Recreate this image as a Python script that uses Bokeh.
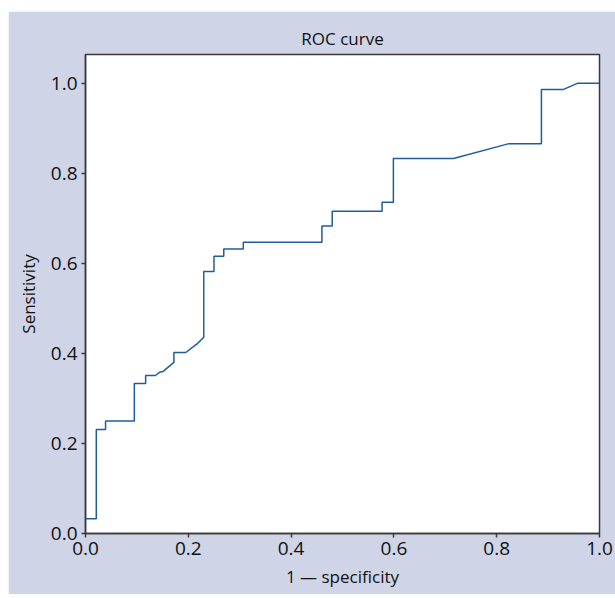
from bokeh.plotting import figure
from bokeh.models import Range1d, FixedTicker, PrintfTickFormatter, Spacer
from bokeh.layouts import column, row
from bokeh.embed import file_html
from bokeh.resources import INLINE

# ROC curve data (1 - specificity, sensitivity)
fpr = [0.0, 0.021, 0.021, 0.039, 0.039, 0.095, 0.095, 0.117, 0.117, 0.136,
       0.144, 0.151, 0.172, 0.172, 0.195, 0.217, 0.230, 0.230, 0.250, 0.250,
       0.269, 0.269, 0.307, 0.307, 0.460, 0.460, 0.480, 0.480, 0.577, 0.577,
       0.599, 0.599, 0.716, 0.824, 0.887, 0.887, 0.929, 0.957, 1.0]
tpr = [0.033, 0.033, 0.231, 0.231, 0.250, 0.250, 0.333, 0.333, 0.351, 0.351,
       0.358, 0.360, 0.380, 0.402, 0.402, 0.421, 0.436, 0.582, 0.582, 0.616,
       0.616, 0.632, 0.632, 0.647, 0.647, 0.683, 0.683, 0.716, 0.716, 0.736,
       0.736, 0.833, 0.833, 0.866, 0.866, 0.986, 0.986, 1.0, 1.0]
ticks = [0.0, 0.2, 0.4, 0.6, 0.8, 1.0]

BG = "#cfd4e7"
FONT = "Open Sans"

p = figure(width=607, height=583, output_backend="svg", toolbar_location=None,
           x_range=Range1d(0, 1), y_range=Range1d(0, 1.064),
           min_border_left=77, min_border_right=16, min_border_top=43,
           min_border_bottom=61, title="ROC curve")
p.border_fill_color = BG
p.background_fill_color = "white"
p.outline_line_color = "#3a3a3a"
p.outline_line_width = 1.5
p.grid.visible = False

p.title.align = "center"
p.title.text_font = FONT
p.title.text_font_size = "17px"
p.title.text_font_style = "normal"
p.title.text_color = "#111111"
p.title.standoff = 10

for ax in (p.xaxis[0], p.yaxis[0]):
    ax.ticker = FixedTicker(ticks=ticks)
    ax.formatter = PrintfTickFormatter(format="%.1f")
    ax.major_label_text_font = FONT
    ax.major_label_text_font_size = "19px"
    ax.major_label_text_color = "#111111"
    ax.axis_label_text_font = FONT
    ax.axis_label_text_font_size = "17px"
    ax.axis_label_text_font_style = "normal"
    ax.axis_label_text_color = "#111111"
    ax.axis_line_color = "#3a3a3a"
    ax.axis_line_width = 1.5
    ax.major_tick_line_color = "#3a3a3a"
    ax.major_tick_line_width = 1.5
    ax.major_tick_out = 4
    ax.major_tick_in = 0
    ax.minor_tick_line_color = None
    ax.major_label_standoff = 4

p.xaxis.axis_label = "1 \u2014 specificity"
p.yaxis.axis_label = "Sensitivity"
p.xaxis.axis_label_standoff = 7
p.yaxis.axis_label_standoff = 8

p.line(fpr, tpr, line_color="#1f5c9e", line_width=1.5)

layout = column(Spacer(height=11), row(Spacer(width=8), p))
open("out.html", "w").write(file_html(layout, INLINE))
